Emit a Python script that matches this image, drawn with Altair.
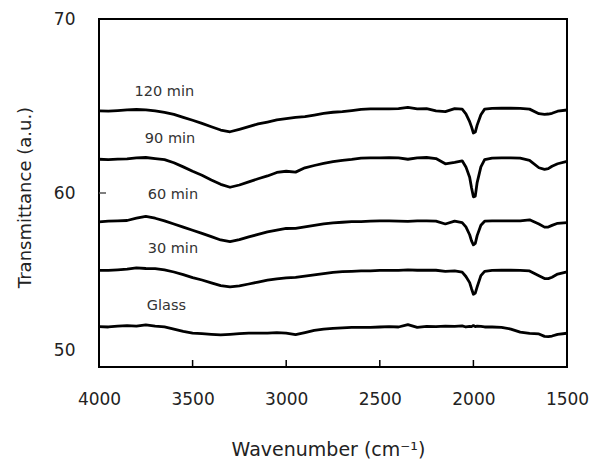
import altair as alt
import pandas as pd

# Wavenumber grid (cm^-1), finer around the 2000 band
wavenumber = [4000, 3950, 3900, 3850, 3800, 3750, 3700, 3650, 3600, 3550,
              3500, 3450, 3400, 3350, 3300, 3250, 3200, 3150, 3100, 3050,
              3000, 2950, 2900, 2850, 2800, 2750, 2700, 2650, 2600, 2550,
              2500, 2450, 2400, 2350, 2300, 2250, 2200, 2150, 2100, 2060,
              2040, 2020, 2010, 2000, 1990, 1980, 1960, 1940, 1900, 1850,
              1800, 1750, 1700, 1650, 1620, 1600, 1580, 1550, 1500]

t_120 = [64.72, 64.70, 64.74, 64.78, 64.80, 64.78, 64.72, 64.64, 64.52, 64.35,
         64.18, 64.00, 63.81, 63.62, 63.52, 63.66, 63.81, 63.97, 64.08, 64.20,
         64.27, 64.35, 64.39, 64.48, 64.58, 64.64, 64.68, 64.74, 64.81, 64.83,
         64.84, 64.84, 64.85, 64.92, 64.84, 64.85, 64.72, 64.68, 64.85, 64.82,
         64.55, 64.10, 63.80, 63.45, 63.50, 63.90, 64.50, 64.82, 64.86, 64.87,
         64.87, 64.86, 64.82, 64.56, 64.52, 64.54, 64.58, 64.70, 64.77]

t_90 = [61.94, 61.92, 61.95, 61.96, 62.02, 62.04, 61.98, 61.92, 61.74, 61.50,
        61.25, 61.02, 60.75, 60.50, 60.33, 60.46, 60.64, 60.82, 60.98, 61.18,
        61.25, 61.20, 61.45, 61.58, 61.70, 61.80, 61.88, 61.93, 62.00, 62.02,
        62.02, 62.03, 62.02, 61.94, 62.02, 62.04, 61.98, 61.68, 61.76, 61.85,
        61.50, 60.90, 60.30, 59.78, 59.82, 60.60, 61.50, 61.92, 62.00, 62.02,
        62.02, 62.00, 61.88, 61.45, 61.36, 61.40, 61.54, 61.68, 61.82]

t_60 = [58.34, 58.38, 58.40, 58.42, 58.55, 58.66, 58.55, 58.40, 58.22, 58.04,
        57.86, 57.68, 57.49, 57.30, 57.20, 57.32, 57.48, 57.62, 57.76, 57.86,
        57.96, 57.97, 58.06, 58.14, 58.22, 58.28, 58.32, 58.35, 58.36, 58.38,
        58.40, 58.40, 58.38, 58.37, 58.40, 58.40, 58.38, 58.22, 58.38, 58.30,
        58.05, 57.60, 57.25, 57.02, 57.10, 57.55, 58.15, 58.38, 58.40, 58.40,
        58.40, 58.40, 58.46, 58.22, 58.04, 58.04, 58.14, 58.26, 58.30]

t_30 = [55.55, 55.55, 55.58, 55.62, 55.70, 55.66, 55.65, 55.58, 55.46, 55.31,
        55.14, 55.00, 54.84, 54.68, 54.60, 54.66, 54.77, 54.88, 54.99, 55.07,
        55.12, 55.15, 55.22, 55.29, 55.36, 55.44, 55.48, 55.50, 55.52, 55.53,
        55.55, 55.55, 55.55, 55.58, 55.56, 55.57, 55.56, 55.50, 55.52, 55.45,
        55.20, 54.85, 54.50, 54.18, 54.25, 54.60, 55.25, 55.50, 55.55, 55.56,
        55.56, 55.55, 55.52, 55.24, 55.08, 55.08, 55.16, 55.34, 55.47]

t_glass = [52.32, 52.30, 52.35, 52.38, 52.35, 52.42, 52.35, 52.30, 52.18, 52.05,
           51.95, 51.92, 51.88, 51.85, 51.88, 51.92, 51.95, 51.95, 51.95, 51.97,
           51.95, 51.86, 51.98, 52.10, 52.18, 52.22, 52.25, 52.28, 52.28, 52.28,
           52.30, 52.32, 52.30, 52.44, 52.28, 52.33, 52.32, 52.35, 52.33, 52.36,
           52.30, 52.34, 52.32, 52.38, 52.32, 52.35, 52.33, 52.30, 52.30, 52.28,
           52.18, 52.00, 51.93, 51.90, 51.76, 51.74, 51.78, 51.88, 51.94]

series_names = ["120 min", "90 min", "60 min", "30 min", "Glass"]
series_values = [t_120, t_90, t_60, t_30, t_glass]

# Curve annotations: text, wavenumber, transmittance
label_text = ["120 min", "90 min", "60 min", "30 min", "Glass"]
label_wn = [3810, 3755, 3740, 3740, 3745]
label_t = [65.8, 63.1, 59.9, 56.8, 53.5]

x_ticks = [4000, 3500, 3000, 2500, 2000, 1500]
y_ticks = [50, 60, 70]
inner_x_ticks = [3500, 3000, 2500, 2000]
inner_y_ticks = [60]

rows = []
for name, vals in zip(series_names, series_values):
    for w, v in zip(wavenumber, vals):
        rows.append({"series": name, "wn": w, "T": v})
spectra = pd.DataFrame(rows)
labels = pd.DataFrame({"text": label_text, "wn": label_wn, "T": label_t})

W, H = 468, 348
FONT = "DejaVu Sans"

x_scale = alt.Scale(domain=[4000, 1500], nice=False, zero=False)
y_scale = alt.Scale(domain=[50, 70], nice=False, zero=False)

x_axis = alt.Axis(values=x_ticks, ticks=False, tickSize=0, grid=False,
                  domain=False, labelPadding=24, labelFont=FONT,
                  labelFontSize=17, labelColor="#222222",
                  title="Wavenumber (cm⁻¹)", titleFont=FONT, titleFontSize=19,
                  titleFontWeight="normal", titleColor="#222222",
                  titleX=229, titleY=82, titleBaseline="middle",
                  format="d", labelFlush=False, labelOverlap=False)
y_axis = alt.Axis(values=y_ticks, ticks=False, tickSize=0, grid=False,
                  domain=False, labelPadding=24, labelFont=FONT,
                  labelFontSize=17, labelColor="#222222",
                  labelOffset=alt.condition("datum.value == 50", alt.value(-17), alt.value(0)),
                  title="Transmittance (a.u.)", titleFont=FONT, titleFontSize=18,
                  titleFontWeight="normal", titleColor="#222222",
                  titleAngle=270, titleX=-74, titleY=178,
                  titleAlign="center", titleBaseline="middle")

lines = alt.Chart(spectra).mark_line(color="black", strokeWidth=2.8,
                                     strokeJoin="round").encode(
    x=alt.X("wn:Q", scale=x_scale, axis=x_axis),
    y=alt.Y("T:Q", scale=y_scale, axis=y_axis),
    detail="series:N",
    order="order_idx:Q",
).transform_window(order_idx="row_number()", groupby=["series"])

texts = alt.Chart(labels).mark_text(align="left", baseline="middle",
                                    font=FONT, fontSize=14.5,
                                    color="#333333").encode(
    x=alt.X("wn:Q", scale=x_scale),
    y=alt.Y("T:Q", scale=y_scale),
    text="text:N",
)

# Inward tick marks along the bottom and left edges
xt = alt.Chart(pd.DataFrame({"wn": inner_x_ticks})).mark_rule(
    color="black", strokeWidth=1.5).encode(
    x=alt.X("wn:Q", scale=x_scale),
    y=alt.value(H - 7), y2=alt.value(H),
)
yt = alt.Chart(pd.DataFrame({"T": inner_y_ticks})).mark_rule(
    color="#555555", strokeWidth=1.5).encode(
    y=alt.Y("T:Q", scale=y_scale),
    x=alt.value(0), x2=alt.value(7),
)

chart = alt.layer(lines, texts, xt, yt).properties(
    width=W, height=H,
    autosize=alt.AutoSizeParams(type="none"),
    padding={"left": 99, "top": 19, "right": 27, "bottom": 92},
    background="white",
).configure_view(stroke="black", strokeWidth=2)

chart.save("out.html", embed_options={"renderer": "svg", "actions": False})
